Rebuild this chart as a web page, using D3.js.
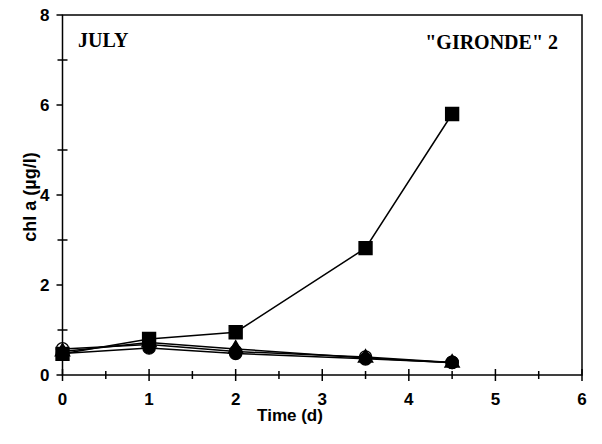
<!DOCTYPE html>
<html><head><meta charset="utf-8">
<script src="https://cdn.jsdelivr.net/npm/d3@7"></script>
<style>body{margin:0;background:#fff}</style>
</head><body>
<svg id="c" width="602" height="444"></svg>
<script>
const times = [0, 1, 2, 3.5, 4.5];
const squares = [0.47, 0.80, 0.95, 2.82, 5.80];
const openCircles = [0.58, 0.68, 0.52, 0.40, 0.28];
const triangles = [0.52, 0.72, 0.58, 0.38, 0.27];
const filledCircles = [0.48, 0.60, 0.48, 0.36, 0.28];
const xTicks = [0,1,2,3,4,5,6];
const yTicks = [0,2,4,6,8];

const svg = d3.select("#c");
const L=62.5, R=582, T=15, B=375;
const x = d3.scaleLinear().domain([0,6]).range([L,R]);
const y = d3.scaleLinear().domain([0,8]).range([B,T]);
const g = svg.append("g");
const SANS = "Liberation Sans, Arial, sans-serif";
const SERIF = "Liberation Serif, Times New Roman, serif";

g.append("rect").attr("x",L).attr("y",T).attr("width",R-L).attr("height",B-T)
 .attr("fill","none").attr("stroke","#000").attr("stroke-width",1.5);

d3.range(0,6.01,0.5).forEach(v=>{
  const major = Math.abs(v-Math.round(v))<1e-9;
  g.append("line").attr("x1",x(v)).attr("x2",x(v))
   .attr("y1",B-(major?6:4)).attr("y2",B+(major?6:4))
   .attr("stroke","#000").attr("stroke-width",1.5);
});
xTicks.forEach(v=>{
  g.append("text").attr("x",x(v)).attr("y",B+30).attr("text-anchor","middle")
   .attr("font-family",SANS).attr("font-weight","bold")
   .attr("font-size",17).text(v);
});
d3.range(0,8.01,1).forEach(v=>{
  const major = v%2===0;
  g.append("line").attr("x1",L-(major?6:5)).attr("x2",L+(major?0:5))
   .attr("y1",y(v)).attr("y2",y(v))
   .attr("stroke","#000").attr("stroke-width",1.5);
});
yTicks.forEach(v=>{
  g.append("text").attr("x",L-13).attr("y",y(v)+6).attr("text-anchor","end")
   .attr("font-family",SANS).attr("font-weight","bold")
   .attr("font-size",17).text(v);
});

g.append("text").attr("x",290).attr("y",421).attr("text-anchor","middle")
 .attr("font-family",SANS).attr("font-weight","bold")
 .attr("font-size",17).text("Time (d)");
g.append("text").attr("transform",`translate(36,197) rotate(-90)`).attr("text-anchor","middle")
 .attr("font-family",SANS).attr("font-weight","bold")
 .attr("font-size",18).text("chl a (µg/l)");

g.append("text").attr("x",78).attr("y",47)
 .attr("font-family",SERIF).attr("font-weight","bold")
 .attr("font-size",20).text("JULY");
g.append("text").attr("x",558).attr("y",49).attr("text-anchor","end")
 .attr("font-family",SERIF).attr("font-weight","bold")
 .attr("font-size",20).text("\"GIRONDE\" 2");

const line = d3.line().x(d=>x(d[0])).y(d=>y(d[1]));
const series = [
  {vals: openCircles, type:"circle", fill:"#fff"},
  {vals: triangles, type:"triangle", fill:"#000"},
  {vals: filledCircles, type:"circle", fill:"#000"},
  {vals: squares, type:"square", fill:"#000"}
];
series.forEach(s=>{
  const pts = times.map((t,i)=>[t,s.vals[i]]);
  g.append("path").attr("d",line(pts)).attr("fill","none").attr("stroke","#000").attr("stroke-width",1.5);
});
series.forEach(s=>{
  const pts = times.map((t,i)=>[t,s.vals[i]]);
  const sym = s.type==="circle"?d3.symbolCircle:(s.type==="square"?d3.symbolSquare:d3.symbolTriangle);
  const size = s.type==="circle"?120:(s.type==="square"?170:90);
  g.selectAll(null).data(pts).enter().append("path")
   .attr("d",d3.symbol().type(sym).size(size))
   .attr("transform",d=>`translate(${x(d[0])},${y(d[1])})`)
   .attr("fill",s.fill).attr("stroke","#000").attr("stroke-width",1.3);
});
</script>
</body></html>
